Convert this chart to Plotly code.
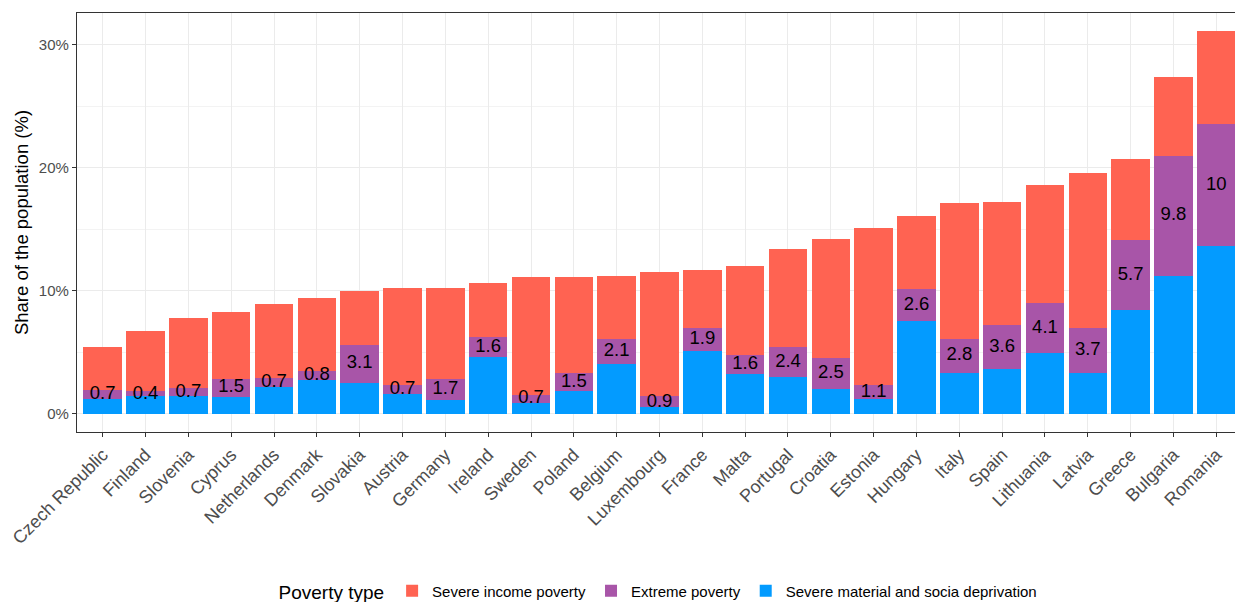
import plotly.graph_objects as go

countries = ['Czech Republic', 'Finland', 'Slovenia', 'Cyprus', 'Netherlands', 'Denmark',
             'Slovakia', 'Austria', 'Germany', 'Ireland', 'Sweden', 'Poland', 'Belgium',
             'Luxembourg', 'France', 'Malta', 'Portugal', 'Croatia', 'Estonia', 'Hungary',
             'Italy', 'Spain', 'Lithuania', 'Latvia', 'Greece', 'Bulgaria', 'Romania']

# severe material and social deprivation only (bottom)
deprivation = [1.2, 1.4, 1.4, 1.35, 2.2, 2.7, 2.5, 1.6, 1.1, 4.6, 0.85, 1.8, 4.0,
               0.5, 5.1, 3.2, 3.0, 2.0, 1.2, 7.5, 3.3, 3.6, 4.9, 3.3, 8.4, 11.2, 13.6]
# extreme poverty (both)
extreme = [0.7, 0.4, 0.7, 1.5, 0.7, 0.8, 3.1, 0.7, 1.7, 1.6, 0.7, 1.5, 2.1,
           0.9, 1.9, 1.6, 2.4, 2.5, 1.1, 2.6, 2.8, 3.6, 4.1, 3.7, 5.7, 9.8, 10]
# severe income poverty only (top)
income = [3.5, 4.9, 5.7, 5.45, 6.0, 5.9, 4.4, 7.9, 7.4, 4.4, 9.55, 7.85, 5.1,
          10.15, 4.7, 7.2, 8.0, 9.7, 12.8, 6.0, 11.0, 10.0, 9.6, 12.6, 6.6, 6.4, 7.5]

c_income = '#FF6352'
c_extreme = '#A855A8'
c_depr = '#039BFF'

fig = go.Figure()
fig.add_trace(go.Bar(x=countries, y=deprivation, name='Severe material and socia deprivation',
                     marker=dict(color=c_depr, line_width=0), width=0.9))
fig.add_trace(go.Bar(x=countries, y=extreme, name='Extreme poverty',
                     marker=dict(color=c_extreme, line_width=0), width=0.9))
fig.add_trace(go.Bar(x=countries, y=income, name='Severe income poverty',
                     marker=dict(color=c_income, line_width=0), width=0.9))

# labels in the middle of the extreme poverty segment
label_y = [d + e / 2 for d, e in zip(deprivation, extreme)]
fig.add_trace(go.Scatter(x=countries, y=label_y, mode='text',
                         text=[f'{e:g}' for e in extreme],
                         textfont=dict(size=18.5, color='black', family='Liberation Sans, Arial'),
                         showlegend=False, hoverinfo='skip', cliponaxis=False))

# page body has an 8px margin, so the figure is a bit smaller than the window
fig.update_layout(
    width=1235, height=594,
    barmode='stack',
    bargap=0.1,
    plot_bgcolor='white',
    paper_bgcolor='white',
    font=dict(family='Liberation Sans, Arial', color='black'),
    margin=dict(l=69, r=1, t=5, b=170, autoexpand=False),
    legend=dict(orientation='h', x=0.5, xanchor='center', y=-0.382, yanchor='middle',
                traceorder='reversed', font=dict(size=15),
                title=dict(text='Poverty type', font=dict(size=19), side='left')),
    xaxis=dict(range=[-0.6, 26.6], tickangle=-45, showgrid=True, gridcolor='#EBEBEB',
               gridwidth=1, ticks='outside', ticklen=4, tickcolor='#333333',
               tickfont=dict(size=18, color='#4D4D4D'), automargin=False,
               showline=True, mirror=True, linecolor='#333333', linewidth=1.2),
    yaxis=dict(range=[-1.5, 32.6], dtick=10, ticksuffix='%', showgrid=True,
               gridcolor='#EBEBEB', gridwidth=1.2, zeroline=False, automargin=False,
               minor=dict(dtick=5, showgrid=True, gridcolor='#F3F3F3', gridwidth=0.8),
               ticks='outside', ticklen=4, tickcolor='#333333',
               tickfont=dict(size=15, color='#4D4D4D'),
               title=dict(text='Share of the population (%)', font=dict(size=18.5), standoff=5),
               showline=True, mirror=True, linecolor='#333333', linewidth=1.2),
)

fig.write_html('out.html')
